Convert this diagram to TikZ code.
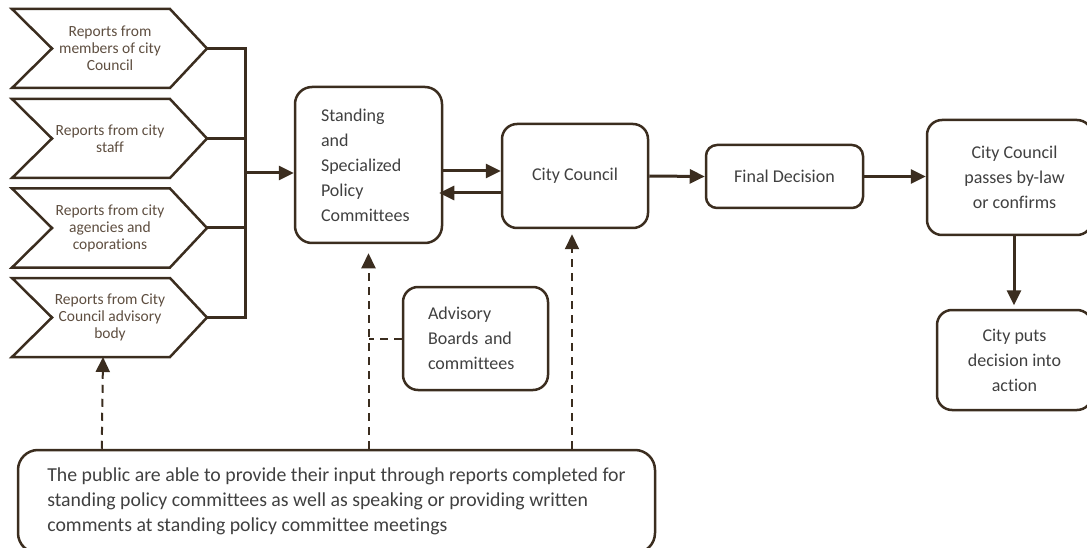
\documentclass[tikz,border=0pt]{standalone}
\usepackage{fontspec}
\setmainfont{Carlito}[Ligatures={NoCommon}]
\usetikzlibrary{arrows.meta,calc}
\definecolor{ln}{HTML}{3B2D1F}
\definecolor{tx}{HTML}{404040}
\definecolor{ctx}{HTML}{5E4E40}
\tikzset{
  box/.style={draw=ln, line width=2.5pt, rounded corners=#1, text=tx, font=\fontsize{18}{25}\selectfont},
  box/.default=15pt,
  chevshape/.style={draw=ln, line width=2.5pt, line join=miter},
  chevtext/.style={text=ctx, align=center, font=\fontsize{15.5}{17}\selectfont, inner sep=0pt},
  conn/.style={draw=ln, line width=3pt},
  arr/.style={conn, -{Triangle[length=15pt,width=14pt]}},
  darr/.style={draw=ln, line width=2pt, dash pattern=on 8pt off 6pt, -{Triangle[length=15pt,width=14pt]}},
  dline/.style={draw=ln, line width=2pt, dash pattern=on 8pt off 6pt},
}
\newcommand{\mychev}[3]{%
  \draw[chevshape] (12,#2-39.5) -- (170,#2-39.5) -- (207,#2) -- (170,#2+39.5) -- (12,#2+39.5) -- (52,#2) -- cycle;
  \coordinate (#1tip) at (207,#2);
  \node[chevtext] (#1) at (110,#2) {#3};
}
\begin{document}
\begin{tikzpicture}[x=1pt,y=-1pt]
\useasboundingbox (0,0) rectangle (1087,548);

% chevrons
\mychev{ca}{48.5}{Reports from\\members of city\\Council}
\mychev{cb}{138.5}{Reports from city\\staff}
\mychev{cc}{228}{Reports from city\\agencies and\\coporations}
\mychev{cd}{317.5}{Reports from City\\Council advisory\\body}
\coordinate (cdbot) at (103,357);

% boxes
\node[box=17pt, minimum width=147pt, minimum height=156pt, text width=95pt, align=left, inner sep=0pt] (stand) at (368.5,165) {Standing\\and\\Specialized\\Policy\\Committees};
\node[box, minimum width=146pt, minimum height=104pt] (council) at (575,176) {City Council};
\node[box=11pt, minimum width=157pt, minimum height=63pt] (final) at (784.5,176.5) {Final Decision};
\node[box, minimum width=165pt, minimum height=115pt, align=center, inner sep=0pt] (passes) at (1009.5,177.5) {\hspace*{10pt}City Council\\\hspace*{10pt}passes by-law\\\hspace*{10pt}or confirms};
\node[box, minimum width=155pt, minimum height=100pt, align=center, inner sep=0pt] (puts) at (1014.5,360) {City puts\\decision into\\action};
\node[box, minimum width=145pt, minimum height=103pt, text width=95pt, align=left, inner sep=0pt] (adv) at (475.5,338.5) {Advisory\\Boards and\\committees};
\node[box=20pt, minimum width=637pt, minimum height=103pt, align=left, inner sep=0pt, font=\fontsize{19.8}{25}\selectfont] (pub) at (336.5,501.5) {The public are able to provide their input through reports completed for\\standing policy committees as well as speaking or providing written\\comments at standing policy committee meetings};

% bus from chevrons
\coordinate (bt) at (245,48.5);
\coordinate (bb) at (245,317.5);
\coordinate (bo) at (245,173);
\draw[conn, line join=miter] (catip) -- (bt) -- (bb) -- (cdtip);
\draw[conn] (cbtip) -- (cbtip -| bt);
\draw[conn] (cctip) -- (cctip -| bt);
\draw[arr] (bo) -- (bo -| stand.west);

% main flow
\draw[arr] ($(stand.east)+(0,6)$) -- ($(council.west)+(0,-5)$);
\draw[arr] ($(council.west)+(0,17)$) -- ($(stand.east)+(-4,28)$);
\draw[arr] (council.east) -- (final.west);
\draw[arr] (final.east) -- (final.east -| passes.west);
\draw[arr, shorten >=6pt] ($(passes.south)+(4.5,0)$) -- ($(passes.south)+(4.5,75)$) coordinate (pd);

% dashed inputs
\coordinate (p1) at ($(pub.north west)+(85,0)$);
\draw[darr] (p1) -- (cdbot);
\draw[darr, shorten >=9pt] (pub.north -| stand.south) -- (stand.south);
\draw[darr, shorten >=5pt] ($(pub.north -| council.south)+(-3,0)$) -- ($(council.south)+(-3,0)$);
\draw[dline] (adv.west) -- (adv.west -| stand.south);
\end{tikzpicture}
\end{document}
